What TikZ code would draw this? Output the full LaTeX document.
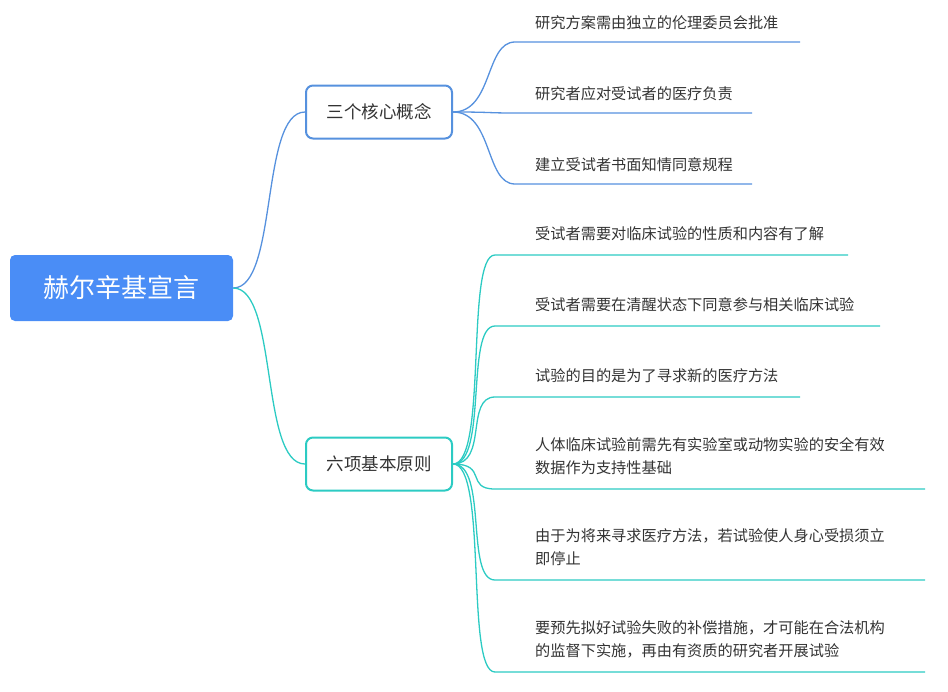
\documentclass[tikz,border=0pt]{standalone}
\usepackage{fontspec}
\setmainfont{Noto Sans CJK SC}
\definecolor{rootblue}{HTML}{4A8DF6}
\definecolor{lineblue}{HTML}{5691DE}
\definecolor{lineteal}{HTML}{2CCBC3}
\definecolor{leaftext}{HTML}{333333}

\begin{document}
\begin{tikzpicture}[x=1pt, y=-1pt,
  rootbox/.style={fill=rootblue, rounded corners=5pt, minimum width=223pt, minimum height=66pt, text=white, font=\fontsize{26}{29}\selectfont},
  branchbox/.style={draw, line width=2pt, fill=white, rounded corners=7pt, minimum width=146pt, minimum height=53pt, text=leaftext, font=\fontsize{17.5}{20}\selectfont},
  leaf/.style={anchor=south west, align=left, inner sep=0pt, text=leaftext, font=\fontsize{15.2}{23}\selectfont},
  link/.style={line width=1.3pt}]
  \useasboundingbox (0,0) rectangle (948,691);

  % root and branches
  \node[rootbox] (root) at (121.5,288) {赫尔辛基宣言};
  \node[branchbox, draw=lineblue] (core) at (379,112) {三个核心概念};
  \node[branchbox, draw=lineteal] (rule) at (379,464) {六项基本原则};
  \draw[link, lineblue] (root.east) .. controls +(45,0) and +(-45,0) .. (core.west);
  \draw[link, lineteal] (root.east) .. controls +(45,0) and +(-45,0) .. (rule.west);

  % core leaves
  \foreach \y/\len/\txt [count=\i] in {
    42/800/研究方案需由独立的伦理委员会批准,
    113/752/研究者应对受试者的医疗负责,
    184/752/建立受试者书面知情同意规程} {
    \coordinate (c\i) at (515,\y);
    \coordinate (ce\i) at (\len,\y);
    \draw[link, lineblue] (core.east) .. controls +(40,0) and +(-30,0) .. (c\i) -- (ce\i);
    \node[leaf] (ct\i) at (535,\y-12) {\txt};
  }

  % rule leaves
  \foreach \y/\len/\txt [count=\i] in {
    255/848/受试者需要对临床试验的性质和内容有了解,
    326/880/受试者需要在清醒状态下同意参与相关临床试验,
    397/800/试验的目的是为了寻求新的医疗方法,
    489/925/{人体临床试验前需先有实验室或动物实验的安全有效\\数据作为支持性基础},
    580/925/{由于为将来寻求医疗方法，若试验使人身心受损须立\\即停止},
    672/925/{要预先拟好试验失败的补偿措施，才可能在合法机构\\的监督下实施，再由有资质的研究者开展试验}} {
    \coordinate (r\i) at (495,\y);
    \coordinate (re\i) at (\len,\y);
    \draw[link, lineteal] (rule.east) .. controls +(35,0) and +(-30,0) .. (r\i) -- (re\i);
    \node[leaf] (rt\i) at (535,\y-14) {\txt};
  }
\end{tikzpicture}
\end{document}
